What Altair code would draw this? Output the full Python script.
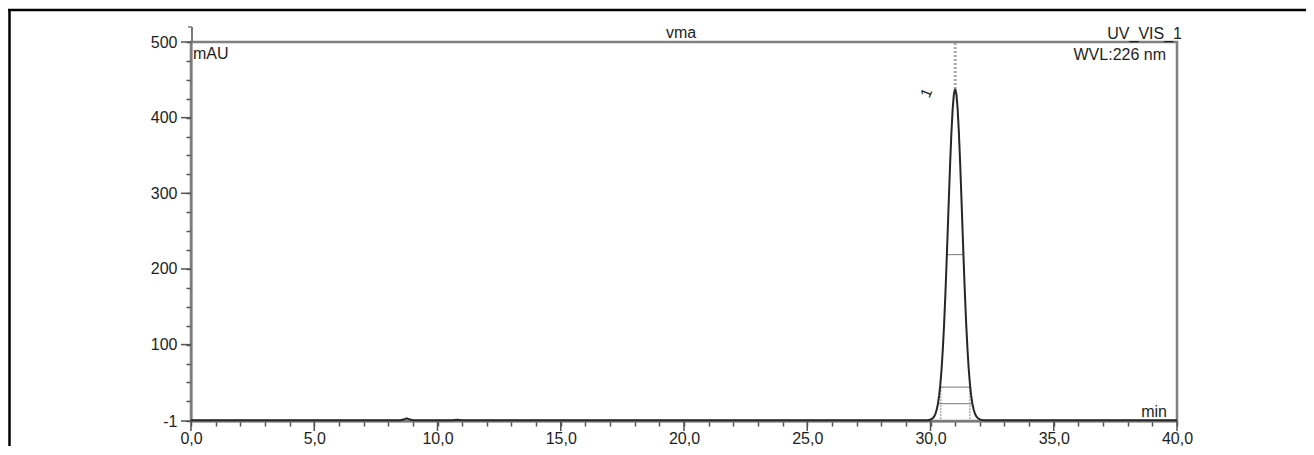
import altair as alt
import pandas as pd

# ---------------- data ----------------
time_min = [0.0, 5.0, 8.5, 8.65, 8.75, 8.85, 9.0, 10.6, 10.8, 11.0, 20.0, 29.9,
            30.0, 30.05, 30.10, 30.15, 30.20, 30.25, 30.30, 30.35, 30.40, 30.45,
            30.50, 30.55, 30.60, 30.65, 30.70, 30.75, 30.80, 30.85, 30.90, 30.95,
            31.00, 31.05, 31.10, 31.15, 31.20, 31.25, 31.30, 31.35, 31.40, 31.45,
            31.50, 31.55, 31.60, 31.65, 31.70, 31.75, 31.80, 31.85, 31.90, 31.95,
            32.00, 32.05, 32.10, 32.20, 40.0]
signal_mau = [0.0, 0.0, 0.0, 1.2, 2.4, 1.2, 0.0, 0.0, 0.8, 0.0, 0.0, 0.0,
              0.9, 1.7, 3.0, 5.1, 8.5, 13.7, 21.5, 32.5, 47.7, 68.1,
              94.0, 125.9, 163.6, 206.1, 251.7, 298.2, 342.4, 381.4, 411.9, 431.3,
              438.0, 431.3, 411.9, 381.4, 342.4, 298.2, 251.7, 206.1, 163.6, 125.9,
              94.0, 68.1, 47.7, 32.5, 21.8, 14.2, 9.0, 5.6, 3.4, 2.0,
              1.1, 0.6, 0.3, 0.0, 0.0]

peak_time = [31.0]
peak_height = [438.0]
peak_names = ["1"]
scale_top = [500.0]

width_levels = [218.9, 43.8, 21.9]
width_left = [30.67, 30.39, 30.30]
width_right = [31.33, 31.61, 31.70]

tangent_times = [30.42, 31.60]
tangent_top = [43.8, 43.8]
tangent_bottom = [-1.0, -1.0]

x_major = [0, 5, 10, 15, 20, 25, 30, 35, 40]
x_minor = list(range(0, 41))
y_major = [-1, 100, 200, 300, 400, 500]
y_minor = [-1] + list(range(25, 501, 25))

title_center = "vma"
title_right = "UV_VIS_1"
wavelength_label = "WVL:226 nm"
y_unit = "mAU"
x_unit = "min"

FONT = "Liberation Sans"
FS = 16
TXT = "#1e1e1e"

xs = alt.Scale(domain=[0, 40], nice=False, zero=False)
ys = alt.Scale(domain=[-1, 500], nice=False, zero=False)

x_axis = alt.Axis(
    values=x_minor, tickSize=5, tickColor="#555", tickWidth=1.5,
    domainColor="#7a7a7a", domainWidth=2, grid=False, title=None,
    labelExpr="datum.value % 5 == 0 ? replace(format(datum.value, '.1f'), '.', ',') : ''",
    labelFont=FONT, labelFontSize=FS, labelColor=TXT,
    labelPadding=17, labelBaseline="alphabetic",
    labelFlush=False, labelOverlap=False, labelBound=False,
)
y_axis = alt.Axis(
    values=y_minor, tickSize=5, tickColor="#555", tickWidth=1.5,
    domainColor="#7a7a7a", domainWidth=2, grid=False, title=None,
    labelExpr="(datum.value == -1 || datum.value % 100 == 0) ? ('' + datum.value) : ''",
    labelFont=FONT, labelFontSize=FS, labelColor=TXT,
    labelPadding=9, labelBaseline="middle",
    labelFlush=False, labelOverlap=False, labelBound=False,
)


def X(field):
    return alt.X(field, scale=xs, axis=x_axis)


def Y(field):
    return alt.Y(field, scale=ys, axis=y_axis)


trace = pd.DataFrame({"t": time_min, "v": signal_mau})

line = alt.Chart(trace).mark_line(color="#262626", strokeWidth=2).encode(
    x=X("t:Q"), y=Y("v:Q")
)

# major ticks (longer) drawn at the scale positions
xmaj = alt.Chart(pd.DataFrame({"t": x_major})).mark_rule(color="#555", strokeWidth=1.5).encode(
    x=X("t:Q"), y=alt.value(379), y2=alt.value(389)
)
ymaj = alt.Chart(pd.DataFrame({"v": y_major})).mark_rule(color="#555", strokeWidth=1.5).encode(
    y=Y("v:Q"), x=alt.value(-10), x2=alt.value(0)
)

# y axis extension above the frame
yext = alt.Chart(pd.DataFrame({"a": [0]})).mark_rule(color="#7a7a7a", strokeWidth=2).encode(
    x=alt.value(1), y=alt.value(-15), y2=alt.value(0)
)
yext_tick = alt.Chart(pd.DataFrame({"a": [0]})).mark_rule(color="#7a7a7a", strokeWidth=1.5).encode(
    x=alt.value(-3), x2=alt.value(1), y=alt.value(-15)
)

# width-at-height marker lines
wl = alt.Chart(pd.DataFrame({"lv": width_levels, "l": width_left, "r": width_right})).mark_rule(
    color="#777", strokeWidth=1
).encode(x=X("l:Q"), x2="r:Q", y=Y("lv:Q"))

tg = alt.Chart(pd.DataFrame({"t": tangent_times, "a": tangent_top, "b": tangent_bottom})).mark_rule(
    color="#888", strokeWidth=1, strokeDash=[2, 1]
).encode(x=X("t:Q"), y=Y("a:Q"), y2="b:Q")

apex = alt.Chart(pd.DataFrame({"t": peak_time, "h": peak_height, "top": scale_top})).mark_rule(
    color="#aaa", strokeWidth=3, strokeDash=[2, 2]
).encode(x=X("t:Q"), y=Y("h:Q"), y2="top:Q")

peak_lbl = alt.Chart(pd.DataFrame({"t": peak_time, "h": peak_height, "n": peak_names})).mark_text(
    font=FONT, fontSize=15, color=TXT, angle=293, dx=-15, dy=-25,
    align="center", baseline="middle"
).encode(x=X("t:Q"), y=Y("h:Q"), text="n:N")


def label(txt, x, y, align):
    return alt.Chart(pd.DataFrame({"s": [txt]})).mark_text(
        font=FONT, fontSize=FS, color=TXT, align=align, baseline="alphabetic"
    ).encode(x=alt.value(x), y=alt.value(y), text="s:N")


texts = [
    label(title_center, 490, -4, "center"),
    label(title_right, 991, -3, "right"),
    label(wavelength_label, 975, 18, "right"),
    label(y_unit, 2, 17, "left"),
    label(x_unit, 976, 375, "right"),
]

# outer black frame (left and top edges of the surrounding box)
frame_left = alt.Chart(pd.DataFrame({"a": [0]})).mark_rule(color="#000", strokeWidth=2.5).encode(
    x=alt.value(-181.5), y=alt.value(-33), y2=alt.value(420)
)
frame_top = alt.Chart(pd.DataFrame({"a": [0]})).mark_rule(color="#000", strokeWidth=2.5).encode(
    x=alt.value(-183), x2=alt.value(1130), y=alt.value(-32)
)

chart = alt.layer(
    wl, tg, apex, line, xmaj, ymaj, yext, yext_tick, peak_lbl, *texts, frame_left, frame_top
).properties(
    width=986, height=379,
    padding={"left": 183, "top": 34, "right": 129, "bottom": 25},
    autosize=alt.AutoSizeParams(type="none"),
).configure(
    background="white",
    view=alt.ViewConfig(stroke="#808080", strokeWidth=2.5),
)

chart.save("out.html", embed_options={"renderer": "svg", "actions": False})
